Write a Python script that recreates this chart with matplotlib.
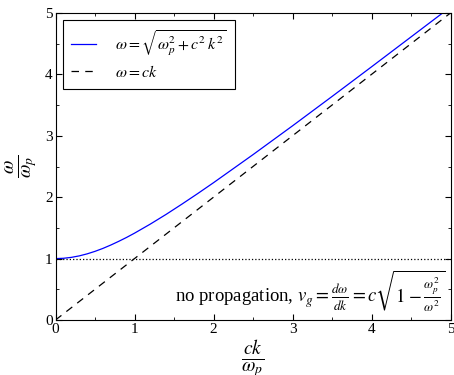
import numpy as np
import matplotlib
matplotlib.use('Agg')
import matplotlib.pyplot as plt

plt.rcParams['font.family'] = 'serif'
plt.rcParams['font.serif'] = ['Liberation Serif', 'DejaVu Serif']
plt.rcParams['mathtext.fontset'] = 'stix'

# dispersion curve
k_vals = [0.0, 0.1, 0.2, 0.3, 0.4, 0.5, 0.6, 0.7, 0.8, 0.9, 1.0, 1.2, 1.4,
          1.6, 1.8, 2.0, 2.5, 3.0, 3.5, 4.0, 4.5, 4.9]
omega_vals = [1.0, 1.005, 1.02, 1.044, 1.077, 1.118, 1.166, 1.221, 1.281,
              1.345, 1.414, 1.562, 1.720, 1.887, 2.059, 2.236, 2.693, 3.162,
              3.640, 4.123, 4.610, 5.0]

# light line and cutoff
light_k = [0, 5]
light_omega = [0, 5]
cutoff_k = [0, 5]
cutoff_omega = [1, 1]

ticks = [0, 1, 2, 3, 4, 5]

fig = plt.figure(figsize=(4.54, 3.75), dpi=100)
ax = fig.add_axes([55.5 / 454, 55 / 375, 395 / 454, 307 / 375])

ax.plot(k_vals, omega_vals, color='blue', lw=0.9,
        label=r'$\omega = \sqrt{\omega_p^2 + c^2\, k^2}$')
ax.plot(light_k, light_omega, color='black', ls='--', dashes=(6, 5), lw=0.9,
        label=r'$\omega = ck$')
ax.plot(cutoff_k, cutoff_omega, color='black', ls=':', lw=0.9)

ax.set_xlim(0, 5)
ax.set_ylim(0, 5)
ax.set_xticks(ticks)
ax.set_yticks(ticks)
ax.set_xticks(np.arange(0.5, 5, 1), minor=True)
ax.set_yticks(np.arange(0.5, 5, 1), minor=True)
ax.tick_params(which='both', direction='in', top=True, right=True,
               labelsize=11, pad=2)
ax.tick_params(which='major', length=4)
ax.tick_params(which='minor', length=2)

ax.set_xlabel(r'$\frac{ck}{\omega_p}$', fontsize=20, labelpad=2)
ax.set_ylabel(r'$\frac{\omega}{\omega_p}$', fontsize=20, labelpad=4)

ax.text(4.93, 0.45,
        r'no propagation, $v_g = \frac{d\omega}{dk} = c\sqrt{1 - \frac{\omega_p^2}{\omega^2}}$',
        ha='right', va='center', fontsize=13.5)

leg = ax.legend(loc='upper left', fontsize=11.5, fancybox=False,
                edgecolor='black', framealpha=1, handlelength=1.6,
                handletextpad=1.2, borderpad=0.5, labelspacing=0.45,
                borderaxespad=0.45)
leg.get_frame().set_linewidth(0.8)

fig.savefig('out.png', dpi=100)
